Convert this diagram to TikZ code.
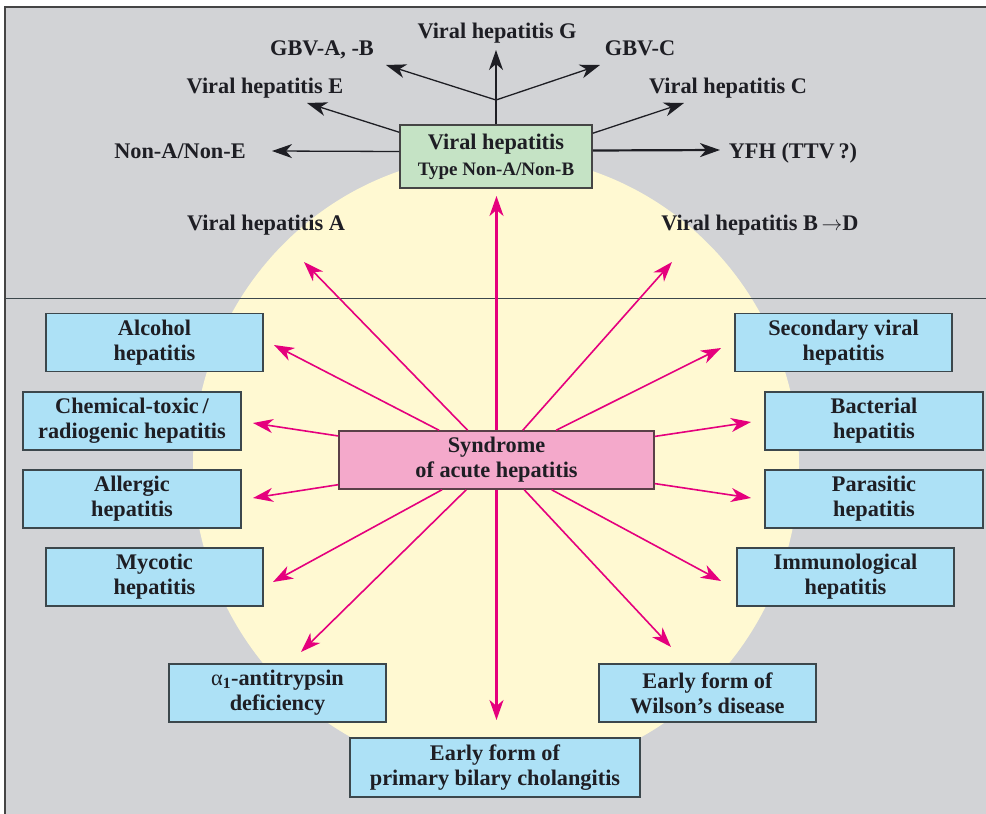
\documentclass[tikz,border=0pt]{standalone}
\usepackage{fontspec}
\setmainfont{Liberation Serif}
\usetikzlibrary{arrows.meta,calc}

\definecolor{bggray}{HTML}{D2D3D6}
\definecolor{paleyellow}{HTML}{FFF9D2}
\definecolor{boxblue}{HTML}{ADE1F6}
\definecolor{boxpink}{HTML}{F4A9CB}
\definecolor{boxgreen}{HTML}{C5E3C5}
\definecolor{rose}{HTML}{E5007D}
\definecolor{ink}{HTML}{1E1E24}
\definecolor{edgegray}{HTML}{3C474C}
\definecolor{pinkedge}{HTML}{5A4048}
\definecolor{framegray}{HTML}{454545}

\begin{document}
\begin{tikzpicture}[x=1pt,y=-1pt,
  every node/.style={font=\fontsize{22.3}{25}\selectfont\bfseries, text=ink, inner sep=0pt, align=center},
  causebox/.style={draw=edgegray, line width=1.5pt, fill=boxblue, minimum width=217pt, minimum height=58pt},
  lbl/.style={anchor=base},
  redarrow/.style={draw=rose, line width=1.6pt, -{Stealth[length=20pt,width=14pt,inset=6pt]}},
  blackarrow/.style={draw=ink, line width=1.3pt, -{Stealth[length=20pt,width=14pt,inset=6pt]}},
]
\useasboundingbox (0,0) rectangle (986,814);
\fill[white] (0,0) rectangle (986,814);

% panel background, sun disc and divider
\fill[bggray] (5,7) rectangle (986,814);
\fill[paleyellow] (496,465) ellipse [x radius=303, y radius=310];
\draw[edgegray, line width=1pt] (5,298) -- (986,298);
\draw[framegray, line width=2pt] (5,814) -- (5,7) -- (986,7);

% central syndrome
\node[causebox, fill=boxpink, draw=pinkedge, minimum width=315pt] (syn) at (496.5,460) {Syndrome\\of acute hepatitis};

% viral hepatitis non-A/non-B
\node[causebox, fill=boxgreen, draw=framegray, minimum width=192pt, minimum height=63pt] (vh) at (496,156.5)
  {Viral hepatitis\\[1pt]{\fontsize{19}{22}\selectfont Type Non-A/Non-B}};

% causes, left column
\node[causebox] (alc) at (154.5,342.5) {Alcohol\\hepatitis};
\node[causebox, minimum width=218pt] (chem) at (132,421) {Chemical-toxic\,/\\radiogenic hepatitis};
\node[causebox, minimum width=218pt] (allg) at (132,499) {Allergic\\hepatitis};
\node[causebox] (myc) at (154.5,577) {Mycotic\\hepatitis};

% causes, right column
\node[causebox] (sec) at (843.5,342.5) {Secondary viral\\hepatitis};
\node[causebox, minimum width=218pt] (bac) at (874,421) {Bacterial\\hepatitis};
\node[causebox, minimum width=218pt] (par) at (874,499) {Parasitic\\hepatitis};
\node[causebox] (imm) at (845.5,577) {Immunological\\hepatitis};

% causes, bottom
\node[causebox] (aat) at (277.5,693) {{\mdseries α}\textsubscript{1}-antitrypsin\\deficiency};
\node[causebox] (wil) at (707.5,693) {Early form of\\Wilson’s disease};
\node[causebox, minimum width=290pt, minimum height=59pt] (pbc) at (495,767.5) {Early form of\\primary bilary cholangitis};

% viral labels
\node[lbl] (lG) at (497,38) {Viral hepatitis G};
\node[lbl] (lGab) at (322,55) {GBV-A, -B};
\node[lbl] (lGc) at (640,55) {GBV-C};
\node[lbl] (lE) at (265,93) {Viral hepatitis E};
\node[lbl] (lC) at (728,93) {Viral hepatitis C};
\node[lbl] (lNon) at (180,158) {Non-A/Non-E};
\node[lbl] (lYFH) at (793,158) {YFH (TTV\,?)};
\node[lbl] (lA) at (266,230) {Viral hepatitis A};
\node[lbl] (lBD) at (760,230) {Viral hepatitis B\,$\rightarrow$D};

% arrow tips around the syndrome
\coordinate (tA) at (304,262);
\coordinate (tUp) at (496.5,196);
\coordinate (tBD) at (672,262);
\coordinate (tAlc) at (274,345);
\coordinate (tChem) at (253,423);
\coordinate (tAll) at (253,498);
\coordinate (tMyc) at (273,582);
\coordinate (tSec) at (721,348);
\coordinate (tBac) at (751,422);
\coordinate (tPar) at (751,498);
\coordinate (tImm) at (721,581);
\coordinate (tAat) at (301,652);
\coordinate (tDown) at (496.5,720);
\coordinate (tWil) at (671,647);

\foreach \t in {tA,tBD,tAlc,tChem,tAll,tMyc,tSec,tBac,tPar,tImm,tAat,tWil}
  \draw[redarrow] (syn) -- (\t);
\draw[redarrow, line width=2.2pt] (syn) -- (tUp);
\draw[redarrow, line width=2.2pt] (syn) -- (tDown);

% branching of the non-A/non-B viruses
\coordinate (jn) at (496,100);
\coordinate (tG) at (496,50);
\coordinate (tGab) at (386,65);
\coordinate (tGc) at (600,65);
\coordinate (tE) at (307,103);
\coordinate (tC) at (684,103);
\coordinate (tNon) at (272,151);
\coordinate (tYFH) at (720,150);

\draw[ink, line width=1.3pt] (vh.north) -- (jn);
\draw[blackarrow] (jn) -- (tG);
\draw[blackarrow] (jn) -- (tGab);
\draw[blackarrow] (jn) -- (tGc);
\draw[blackarrow] ($(vh.north west)+(0,8)$) -- (tE);
\draw[blackarrow] ($(vh.north east)+(0,9)$) -- (tC);
\draw[blackarrow] ($(vh.west)+(0,-5)$) -- (tNon);
\draw[blackarrow, line width=2.2pt] ($(vh.east)+(0,-6)$) -- (tYFH);
\end{tikzpicture}
\end{document}
